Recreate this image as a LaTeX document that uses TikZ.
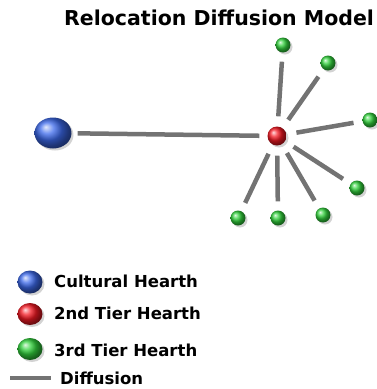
\documentclass[tikz,border=0pt]{standalone}
\usepackage{fontspec}
\setmainfont{DejaVu Sans}
\usetikzlibrary{shapes.geometric}
\usetikzlibrary{shadows}
\definecolor{hearthblue}{RGB}{60,105,235}
\definecolor{hearthred}{RGB}{245,25,35}
\definecolor{hearthgreen}{RGB}{50,210,60}

\begin{document}
\begin{tikzpicture}[x=1pt,y=-1pt,
	hearth/.style={ellipse,inner sep=0pt,minimum width=#1,minimum height=#1,
		drop shadow={shadow xshift=2pt,shadow yshift=-2pt,opacity=.35}},
	first/.style={hearth=31,minimum width=37,ball color=hearthblue},
	second/.style={hearth=19,ball color=hearthred},
	third/.style={hearth=15,ball color=hearthgreen},
	diffusion/.style={line width=4.5pt,draw=black!55},
	legend/.style={anchor=west,inner sep=0pt,font=\bfseries\fontsize{16.5}{18}\selectfont}]
	\useasboundingbox (0,0) rectangle (376,389);
	\node [anchor=base west,inner sep=0pt,font=\bfseries\fontsize{20.5}{22}\selectfont] (title) at (64,25) {Relocation Diffusion Model};
	\node [first] (cult) at (53,133) {};
	\node [second] (tier) at (277,136) {};
	\node [third] (g1) at (283,45) {};
	\node [third] (g2) at (328,63) {};
	\node [third] (g3) at (370,120) {};
	\node [third] (g4) at (357,188) {};
	\node [third] (g5) at (323,215) {};
	\node [third] (g6) at (278,218) {};
	\node [third] (g7) at (238,218) {};
	\draw [diffusion,shorten <=6pt,shorten >=8pt] (cult) -- (tier);
	\foreach \g in {g1,g2,g3,g4,g5,g6,g7}
		\draw [diffusion,shorten <=10pt,shorten >=9pt] (tier) -- (\g);
	\node [first,minimum width=25,minimum height=23] (keyfirst) at (30,282) {};
	\node [legend] (keyfirsttext) at (54,281) {Cultural Hearth};
	\node [second,minimum width=25,minimum height=22] (keysecond) at (30,314) {};
	\node [legend] (keysecondtext) at (54,313) {2nd Tier Hearth};
	\node [third,minimum width=25,minimum height=22] (keythird) at (30,349) {};
	\node [legend] (keythirdtext) at (54,350) {3rd Tier Hearth};
	\coordinate (keyleft) at (10,378);
	\coordinate (keyright) at (51,378);
	\draw [diffusion] (keyleft) -- (keyright);
	\node [legend] (keydiffusion) at (60,378) {Diffusion};
\end{tikzpicture}
\end{document}
